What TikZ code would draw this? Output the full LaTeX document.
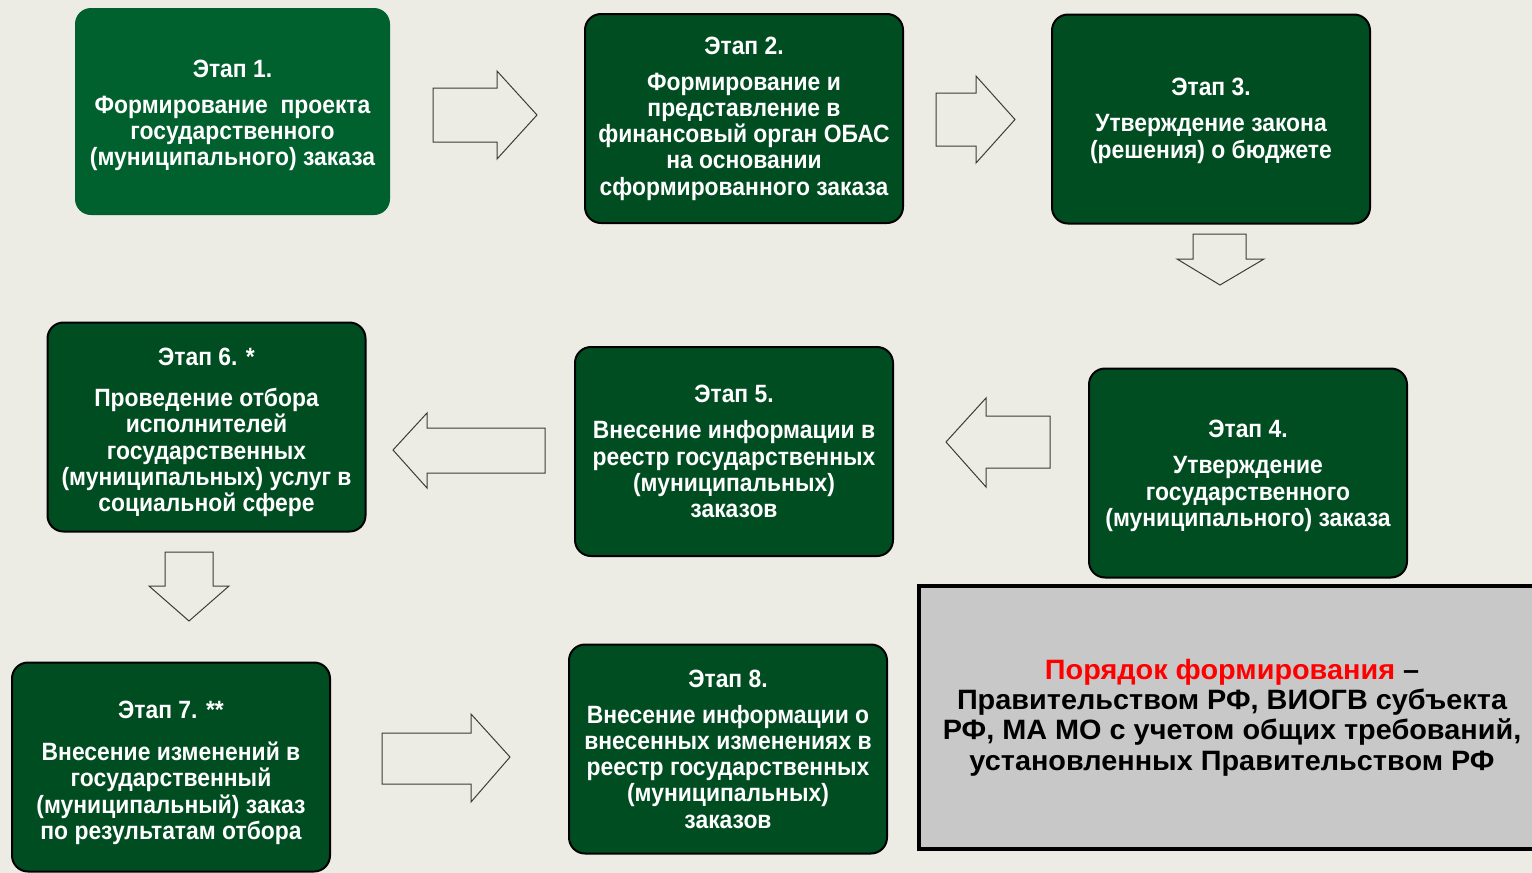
\documentclass[tikz,border=0pt]{standalone}
\usepackage{fontspec}
\setmainfont{Liberation Sans}
\newfontfamily\stagefont[FakeStretch=0.915]{Liberation Sans}
\newfontfamily\notefont[FakeStretch=1.03]{Liberation Sans}
\newcommand\lowerby[1]{\rule{0pt}{#1}}
\definecolor{bgc}{RGB}{236,236,228}
\definecolor{greenA}{RGB}{0,96,46}
\definecolor{greenB}{RGB}{0,77,34}
\definecolor{arrowc}{RGB}{60,60,60}
\definecolor{noteg}{RGB}{200,200,200}
\definecolor{redt}{RGB}{255,0,0}
\tikzset{
  stage/.style={rectangle, rounded corners=16pt, fill=greenB, draw=black, line width=2pt,
    minimum width=318pt, minimum height=209pt, text=white, align=center, inner sep=0pt,
    font=\stagefont\bfseries\fontsize{25}{26.2}\selectfont},
  blockarrow/.style={draw=arrowc, fill=bgc, line width=1pt, line join=miter},
  note/.style={rectangle, fill=noteg, draw=black, line width=4pt, minimum width=626pt,
    minimum height=263pt, align=center, inner sep=0pt,
    font=\notefont\bfseries\fontsize{28}{30.5}\selectfont}
}
\begin{document}
\begin{tikzpicture}[x=1pt,y=-1pt]
\useasboundingbox (0,0) rectangle (1532,873);
\clip (0,0) rectangle (1532,873);
\fill[bgc] (0,0) rectangle (1532,873);

\node[stage, fill=greenA, draw=none, minimum width=315pt, minimum height=207pt] (s1) at (232.5,111.5)
  {\lowerby{25pt}Этап 1.\\[10pt]Формирование\ \ проекта\\государственного\\(муниципального) заказа};
\node[stage] (s2) at (744,118.5)
  {Этап 2.\\[10pt]Формирование и\\представление в\\финансовый орган ОБАС\\на основании\\сформированного заказа};
\node[stage] (s3) at (1211,119)
  {\lowerby{21pt}Этап 3.\\[10pt]Утверждение закона\\(решения) о бюджете};
\node[stage] (s4) at (1248,473)
  {\lowerby{23pt}Этап 4.\\[10pt]Утверждение\\государственного\\(муниципального) заказа};
\node[stage] (s5) at (734,451.5)
  {Этап 5.\\[10pt]Внесение информации в\\реестр государственных\\(муниципальных)\\заказов};
\node[stage] (s6) at (206.5,427)
  {\lowerby{28pt}Этап 6. *\\[15pt]Проведение отбора\\исполнителей\\государственных\\(муниципальных) услуг в\\социальной сфере};
\node[stage] (s7) at (171,767)
  {\lowerby{29pt}Этап 7. **\\[16pt]Внесение изменений в\\государственный\\(муниципальный) заказ\\по результатам отбора};
\node[stage] (s8) at (728,749)
  {Этап 8.\\[10pt]Внесение информации о\\внесенных изменениях в\\реестр государственных\\(муниципальных)\\заказов};

\node[note] (n) at (1232,717.5)
  {\textcolor{redt}{Порядок формирования} –\\Правительством РФ, ВИОГВ субъекта\\РФ, МА МО с учетом общих требований,\\установленных Правительством РФ};

% block arrows
\draw[blockarrow] (433,88) -- (497,88) -- (497,71) -- (537,115) -- (497,159) -- (497,142) -- (433,142) -- cycle;
\draw[blockarrow] (936,93) -- (976,93) -- (976,76) -- (1015,119.5) -- (976,163) -- (976,146) -- (936,146) -- cycle;
\draw[blockarrow] (1193,234) -- (1246,234) -- (1246,259) -- (1264,259) -- (1220,285) -- (1177,259) -- (1193,259) -- cycle;
\draw[blockarrow] (1050,416) -- (986,416) -- (986,398) -- (946,442) -- (986,487) -- (986,468) -- (1050,468) -- cycle;
\draw[blockarrow] (545,428) -- (427,428) -- (427,413) -- (393,450) -- (427,488) -- (427,473) -- (545,473) -- cycle;
\draw[blockarrow] (165,552) -- (213,552) -- (213,586) -- (229,586) -- (189,621) -- (149,586) -- (165,586) -- cycle;
\draw[blockarrow] (382,733) -- (471,733) -- (471,714) -- (510,757) -- (471,802) -- (471,784) -- (382,784) -- cycle;
\end{tikzpicture}
\end{document}
